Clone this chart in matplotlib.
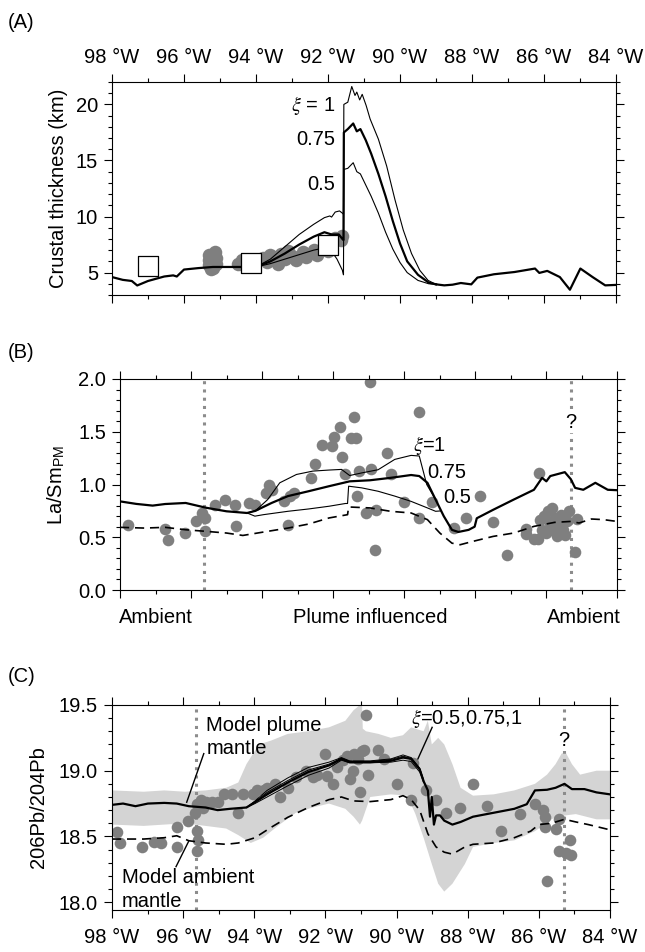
import matplotlib
matplotlib.use("Agg")
import matplotlib.pyplot as plt
from matplotlib.ticker import MultipleLocator, FixedLocator, NullFormatter, FormatStrFormatter

plt.rcParams["font.family"] = ["Liberation Sans", "DejaVu Sans"]
plt.rcParams["mathtext.fontset"] = "stix"

DOT = "#7f7f7f"
BAND = "#d4d4d4"
VLINE = "#8c8c8c"

# ---------------- panel A: crustal thickness ----------------
a_base_lon = [-98.0, -97.7, -97.45, -97.3, -97.0, -96.55, -96.3, -96.2, -96.0, -95.6, -95.2, -94.25, -94.0]
a_base_val = [4.6, 4.35, 4.25, 3.85, 4.25, 4.65, 4.75, 4.65, 5.27, 5.4, 5.5, 5.5, 5.5]

a_x1_lon = [-94.0, -93.6, -93.2, -92.8, -92.4, -92.1, -91.95, -91.9, -91.8, -91.68, -91.6, -91.57,
            -91.56, -91.45, -91.34, -91.25, -91.2, -91.12, -91.05, -90.94, -90.83, -90.6, -90.37,
            -90.14, -89.91, -89.68, -89.45, -89.22, -89.0]
a_x1_val = [5.5, 6.2, 7.3, 8.4, 9.3, 9.9, 10.05, 9.95, 10.4, 10.5, 10.3, 10.2,
            20.0, 20.2, 21.6, 20.8, 21.1, 20.4, 20.9, 19.9, 18.7, 16.9, 14.5,
            11.5, 8.8, 6.7, 5.2, 4.3, 3.95]

a_x075_lon = [-94.0, -93.6, -93.2, -92.8, -92.4, -92.1, -91.9, -91.7, -91.6, -91.57,
              -91.56, -91.45, -91.3, -91.2, -91.1, -90.95, -90.8, -90.6, -90.4, -90.2,
              -90.0, -89.8, -89.5, -89.2, -89.0]
a_x075_val = [5.5, 6.0, 6.7, 7.5, 8.2, 8.6, 8.4, 8.4, 8.0, 7.9,
              17.5, 17.8, 18.3, 17.6, 17.8, 16.8, 15.6, 13.8, 11.8, 9.6,
              7.6, 6.0, 4.8, 4.1, 3.95]

a_x05_lon = [-94.0, -93.6, -93.2, -92.8, -92.4, -92.1, -91.9, -91.75, -91.6, -91.57,
             -91.56, -91.45, -91.3, -91.2, -91.1, -90.95, -90.8, -90.6, -90.4, -90.2,
             -90.0, -89.8, -89.5, -89.2, -89.0]
a_x05_val = [5.5, 5.8, 6.2, 6.6, 7.0, 7.2, 6.9, 6.2, 5.2, 4.8,
             14.2, 14.3, 14.8, 14.0, 13.8, 12.8, 11.8, 10.3, 8.6, 7.1,
             5.9, 5.0, 4.3, 4.0, 3.95]

a_east_lon = [-89.0, -88.77, -88.54, -88.31, -88.02, -87.85, -87.39, -86.82, -86.25, -86.13,
              -85.91, -85.56, -85.28, -84.99, -84.65, -84.3, -84.0]
a_east_val = [3.95, 3.86, 3.92, 4.07, 3.95, 4.55, 4.85, 5.05, 5.36, 4.97,
              5.15, 4.6, 3.47, 5.36, 4.6, 3.86, 3.9]

a_obs_lon = [-95.3, -95.3, -95.3, -95.2, -95.1, -95.1, -95.25, -95.15, -94.5, -94.4, -94.3, -94.2,
             -93.8, -93.7, -93.6, -93.5, -93.4, -93.3, -93.2, -93.1, -93.0, -92.9, -92.7, -92.6,
             -92.4, -92.3, -92.1, -92.0, -91.9, -91.8, -91.65, -91.6]
a_obs_val = [6.6, 6.1, 5.7, 5.4, 6.3, 5.8, 5.3, 6.8, 5.8, 6.1, 5.6, 6.0,
             6.3, 5.9, 6.6, 6.4, 5.8, 6.7, 6.2, 6.9, 6.5, 6.1, 6.8, 6.4,
             7.0, 6.6, 7.3, 6.9, 7.6, 8.1, 7.9, 8.3]

a_sq_lon = [-97.0, -94.15, -92.0]
a_sq_val = [5.6, 5.87, 7.45]

# ---------------- panel B: La/Sm ----------------
b_thick_lon = [-98.0, -97.54, -97.08, -96.73, -96.15, -95.58, -95.0, -94.42, -94.19, -93.73,
               -93.27, -92.69, -92.11, -91.53, -90.96, -90.38, -89.8, -89.57, -89.34, -89.11,
               -88.88, -88.65, -88.47, -88.18, -88.01, -87.95, -87.49, -86.91, -86.34, -86.11,
               -85.99, -85.88, -85.47, -85.3, -85.18, -84.95, -84.61, -84.26, -84.0]
b_thick_val = [0.84, 0.816, 0.80, 0.815, 0.825, 0.78, 0.746, 0.73, 0.75, 0.825,
               0.89, 0.936, 0.984, 1.03, 1.04, 1.063, 1.09, 1.08, 1.016, 0.857,
               0.70, 0.57, 0.55, 0.57, 0.60, 0.68, 0.76, 0.857, 0.95, 1.063,
               1.03, 1.08, 1.117, 1.05, 0.968, 0.95, 1.016, 0.95, 0.946]

b_x1_lon = [-94.42, -94.19, -93.84, -93.5, -93.03, -92.57, -92.11, -91.76, -91.53, -91.19,
            -90.73, -90.26, -89.8, -89.57, -89.36, -89.11]
b_x1_val = [0.73, 0.75, 0.857, 1.016, 1.095, 1.127, 1.137, 1.143, 1.085, 1.11,
            1.14, 1.238, 1.276, 1.27, 1.0, 0.857]

b_x05_lon = [-94.42, -94.2, -93.96, -93.27, -92.69, -92.11, -91.65, -91.59, -91.56, -91.19,
             -90.73, -90.26, -89.8, -89.34, -89.11, -88.95]
b_x05_val = [0.73, 0.70, 0.714, 0.746, 0.768, 0.794, 0.82, 0.82, 0.984, 0.968,
             0.936, 0.89, 0.84, 0.778, 0.746, 0.75]

b_amb_lon = [-98.0, -97.31, -96.73, -96.15, -95.58, -95.0, -94.54, -93.84, -93.27, -92.69,
             -92.11, -91.59, -91.56, -90.96, -90.38, -89.8, -89.34, -88.99, -88.65, -88.42,
             -88.07, -87.49, -86.91, -86.34, -85.76, -85.3, -85.07, -84.72, -84.38, -84.0]
b_amb_val = [0.594, 0.587, 0.594, 0.571, 0.556, 0.54, 0.517, 0.556, 0.587, 0.625,
             0.683, 0.714, 0.787, 0.778, 0.746, 0.73, 0.667, 0.54, 0.444, 0.429,
             0.46, 0.508, 0.54, 0.603, 0.641, 0.65, 0.635, 0.673, 0.667, 0.65]

b_obs_lon = [-97.77, -96.73, -96.64, -96.18, -95.86, -95.69, -95.61, -95.6, -95.32, -95.03,
             -94.77, -94.74, -94.36, -94.21, -93.9, -93.79, -93.73, -93.38, -93.27, -93.21,
             -93.09, -92.61, -92.51, -92.32, -92.02, -91.96, -91.81, -91.76, -91.67, -91.5,
             -91.42, -91.36, -91.33, -91.28, -91.07, -90.96, -90.93, -90.82, -90.78, -90.49,
             -90.38, -90.0, -89.59, -89.59, -89.22, -88.59, -88.24, -87.87, -87.49, -87.09,
             -86.57, -86.55, -86.34, -86.22, -86.16, -86.11, -86.05, -85.99, -85.93, -85.88,
             -85.82, -85.82, -85.76, -85.7, -85.64, -85.59, -85.53, -85.47, -85.41, -85.36,
             -86.2, -85.12, -85.18]
b_obs_val = [0.62, 0.578, 0.47, 0.54, 0.65, 0.73, 0.68, 0.56, 0.81, 0.857,
             0.81, 0.603, 0.825, 0.806, 0.92, 1.0, 0.95, 0.84, 0.62, 0.89,
             0.92, 1.057, 1.197, 1.37, 1.365, 1.45, 1.546, 1.263, 1.10, 1.444,
             1.644, 1.444, 0.895, 1.127, 0.73, 1.975, 1.15, 0.38, 0.755, 1.295,
             1.095, 0.832, 1.683, 0.683, 0.838, 0.587, 0.683, 0.895, 0.648, 0.333,
             0.533, 0.578, 0.483, 0.483, 0.667, 0.571, 0.698, 0.54, 0.746, 0.635,
             0.778, 0.571, 0.683, 0.508, 0.603, 0.714, 0.571, 0.524, 0.65, 0.746,
             1.111, 0.673, 0.359]

# ---------------- panel C: 206Pb/204Pb ----------------
c_up_lon = [-98.0, -97.11, -96.53, -95.95, -95.37, -94.79, -94.45, -94.22, -93.87, -93.52,
            -93.06, -92.48, -91.9, -91.44, -91.21, -91.03, -90.97, -90.95, -90.86, -90.51,
            -90.16, -89.82, -89.59, -89.24, -89.12, -89.01, -88.83, -88.66, -88.43, -88.2,
            -87.85, -87.27, -86.69, -86.11, -85.77, -85.53, -85.36, -85.25, -85.07, -84.84,
            -84.38, -84.0]
c_up_val = [18.85, 18.84, 18.85, 18.84, 18.85, 18.87, 18.91, 19.05, 19.2, 19.23,
            19.28, 19.3, 19.33, 19.38, 19.46, 19.5, 19.5, 19.32, 19.3, 19.28,
            19.25, 19.27, 19.33, 19.3, 19.38, 19.2, 19.25, 19.2, 19.05, 18.87,
            18.81, 18.82, 18.85, 18.9, 18.97, 19.05, 19.13, 19.14, 19.05, 18.97,
            19.0, 19.0]
c_lo_lon = [-98.0, -97.11, -95.95, -95.37, -94.79, -94.45, -94.1, -93.75, -93.29, -92.83,
            -92.36, -91.9, -91.44, -91.21, -91.03, -90.97, -90.74, -90.16, -89.7, -89.47,
            -89.24, -89.01, -88.83, -88.66, -88.43, -88.08, -87.85, -87.27, -86.69, -86.11,
            -85.53, -84.96, -84.38, -84.0]
c_lo_val = [18.59, 18.58, 18.6, 18.58, 18.56, 18.51, 18.45, 18.49, 18.59, 18.68,
            18.72, 18.75, 18.71, 18.65, 18.59, 18.62, 18.8, 18.82, 18.81, 18.67,
            18.49, 18.29, 18.14, 18.08, 18.14, 18.29, 18.42, 18.45, 18.47, 18.54,
            18.65, 18.67, 18.63, 18.63]

c_plume_lon = [-98.0, -97.69, -97.34, -96.99, -96.53, -96.18, -95.84, -95.37, -95.03, -94.68,
               -94.22, -93.98, -93.64, -93.06, -92.48, -91.9, -91.55, -91.32, -90.74, -90.16,
               -89.82, -89.59, -89.35, -89.24, -89.12, -89.06, -89.01, -88.95, -88.89, -88.78,
               -88.66, -88.43, -88.2, -87.85, -87.27, -86.69, -86.34, -86.11, -85.77, -85.53,
               -85.28, -85.07, -84.72, -84.38, -84.0]
c_plume_val = [18.74, 18.75, 18.73, 18.75, 18.755, 18.75, 18.73, 18.72, 18.70, 18.71,
               18.72, 18.76, 18.82, 18.91, 18.99, 19.04, 19.09, 19.065, 19.065, 19.075,
               19.1, 19.09, 19.01, 18.92, 18.85, 18.65, 18.8, 18.59, 18.66, 18.66,
               18.62, 18.59, 18.61, 18.65, 18.68, 18.71, 18.745, 18.85, 18.855, 18.87,
               18.9, 18.86, 18.86, 18.835, 18.82]

c_xi_lon = [-94.22, -93.98, -93.64, -93.06, -92.48, -91.9, -91.55, -91.32, -90.74, -90.16,
            -89.82, -89.59, -89.35, -89.24]
c_x1_val = [18.72, 18.77, 18.85, 18.945, 19.025, 19.065, 19.10, 19.075, 19.075, 19.09,
            19.12, 19.10, 19.02, 18.93]
c_x075_val = [18.72, 18.765, 18.835, 18.925, 19.005, 19.05, 19.095, 19.07, 19.07, 19.085,
              19.11, 19.095, 19.015, 18.925]
c_x05_val = [18.72, 18.75, 18.80, 18.885, 18.965, 19.02, 19.08, 19.06, 19.06, 19.065,
             19.08, 19.07, 18.99, 18.91]

c_amb_lon = [-98.0, -97.11, -96.53, -96.18, -95.84, -95.37, -94.79, -94.45, -93.98, -93.52,
             -93.06, -92.48, -91.9, -91.55, -91.21, -90.74, -90.16, -89.82, -89.59, -89.35,
             -89.12, -88.89, -88.66, -88.43, -88.08, -87.85, -87.27, -86.69, -86.23, -86.0,
             -85.65, -85.28, -84.96, -84.61, -84.0]
c_amb_val = [18.48, 18.48, 18.49, 18.505, 18.467, 18.45, 18.44, 18.45, 18.49, 18.57,
             18.645, 18.72, 18.78, 18.8, 18.77, 18.765, 18.78, 18.81, 18.78, 18.7,
             18.52, 18.42, 18.38, 18.365, 18.42, 18.44, 18.45, 18.49, 18.54, 18.59,
             18.6, 18.63, 18.61, 18.59, 18.55]

c_obs_lon = [-97.86, -97.78, -97.17, -96.82, -96.61, -96.18, -96.18, -95.86, -95.66, -95.6,
             -95.6, -95.6, -95.58, -95.51, -95.43, -95.37, -95.2, -95.03, -94.85, -94.64,
             -94.45, -94.33, -94.04, -93.93, -93.73, -93.64, -93.41, -93.29, -93.06, -92.83,
             -92.54, -92.36, -92.25, -92.02, -91.96, -91.78, -91.67, -91.5, -91.38, -91.32,
             -91.23, -91.21, -91.09, -91.03, -90.97, -90.92, -90.86, -90.8, -90.51, -90.34,
             -89.99, -89.59, -89.55, -89.18, -88.89, -88.6, -88.22, -87.85, -87.47, -87.07,
             -86.52, -86.11, -85.88, -85.82, -85.82, -85.77, -85.53, -85.44, -85.42, -85.25,
             -85.13, -85.1]
c_obs_val = [18.53, 18.45, 18.42, 18.46, 18.45, 18.57, 18.42, 18.62, 18.68, 18.75,
             18.54, 18.39, 18.47, 18.78, 18.72, 18.76, 18.76, 18.76, 18.82, 18.82,
             18.68, 18.82, 18.82, 18.85, 18.85, 18.87, 18.9, 18.8, 18.87, 18.95,
             19.0, 18.95, 18.97, 19.13, 18.96, 18.9, 19.03, 19.08, 19.11, 18.94,
             19.0, 19.13, 19.09, 18.84, 19.15, 19.16, 19.425, 18.97, 19.16, 19.09,
             18.9, 18.78, 19.06, 18.85, 18.78, 18.68, 18.72, 18.9, 18.73, 18.54,
             18.67, 18.75, 18.7, 18.65, 18.57, 18.16, 18.56, 18.63, 18.39, 18.37,
             18.47, 18.36]

div_lon = [-95.63, -85.29]
lon_ticks = [-98, -96, -94, -92, -90, -88, -86, -84]
lon_labels = ["98 °W", "96 °W", "94 °W", "92 °W", "90 °W", "88 °W", "86 °W", "84 °W"]
b_region_lon = [-96.98, -90.96, -84.93]
b_region_txt = ["Ambient", "Plume influenced", "Ambient"]

FS = 14.5
W, H = 645, 952
fig = plt.figure(figsize=(W / 100, H / 100), dpi=100)


def rect(l, r, t, b):
    return [l / W, 1 - b / H, (r - l) / W, (b - t) / H]


axA = fig.add_axes(rect(112, 616, 82, 295))
axB = fig.add_axes(rect(120, 617, 379, 590))
axC = fig.add_axes(rect(112, 610, 705, 910))


def style(ax, ymaj, ymin):
    ax.set_xlim(-98, -84)
    ax.xaxis.set_major_locator(FixedLocator(lon_ticks))
    ax.xaxis.set_minor_locator(MultipleLocator(1))
    ax.yaxis.set_major_locator(MultipleLocator(ymaj))
    ax.yaxis.set_minor_locator(MultipleLocator(ymin))
    ax.tick_params(which="both", direction="out", top=True, right=True, width=0.8,
                   labelsize=FS, pad=4)
    ax.tick_params(which="major", length=6)
    ax.tick_params(which="minor", length=3)
    for s in ax.spines.values():
        s.set_linewidth(0.8)


# panel A
style(axA, 5, 1)
axA.set_ylim(3, 22)
axA.set_xticklabels(lon_labels)
axA.tick_params(axis="x", labeltop=True, labelbottom=False, pad=5)
axA.scatter(a_obs_lon, a_obs_val, s=95, color=DOT, lw=0, zorder=2)
axA.plot(a_base_lon, a_base_val, color="k", lw=1.6, zorder=3)
axA.plot(a_x1_lon, a_x1_val, color="k", lw=0.8, zorder=3)
axA.plot(a_x075_lon, a_x075_val, color="k", lw=1.6, zorder=3)
axA.plot(a_x05_lon, a_x05_val, color="k", lw=0.8, zorder=3)
axA.plot(a_east_lon, a_east_val, color="k", lw=1.6, zorder=3)
axA.scatter(a_sq_lon, a_sq_val, s=190, marker="s", facecolor="white", edgecolor="k",
            lw=0.9, zorder=4)
axA.text(-91.8, 19.9, r"$\xi$ = 1", ha="right", va="center", fontsize=FS)
axA.text(-91.8, 16.9, "0.75", ha="right", va="center", fontsize=FS)
axA.text(-91.8, 12.85, "0.5", ha="right", va="center", fontsize=FS)
axA.set_ylabel("Crustal thickness (km)", fontsize=FS, labelpad=6)

# panel B
style(axB, 0.5, 0.1)
axB.set_ylim(0, 2)
axB.yaxis.set_major_formatter(FormatStrFormatter("%.1f"))
axB.xaxis.set_major_formatter(NullFormatter())
for x in div_lon:
    axB.plot([x, x], [0, 2], color=VLINE, lw=2.2, ls=(0, (1, 1.7)), zorder=1)
axB.scatter(b_obs_lon, b_obs_val, s=70, color=DOT, lw=0, zorder=2)
axB.plot(b_amb_lon, b_amb_val, color="k", lw=1.2, ls=(0, (5.5, 3.5)), zorder=3)
axB.plot(b_x1_lon, b_x1_val, color="k", lw=0.8, zorder=3)
axB.plot(b_x05_lon, b_x05_val, color="k", lw=0.8, zorder=3)
axB.plot(b_thick_lon, b_thick_val, color="k", lw=1.6, zorder=3)
axB.text(-89.75, 1.37, r"$\xi$=1", ha="left", va="center", fontsize=FS)
axB.text(-89.35, 1.11, "0.75", ha="left", va="center", fontsize=FS)
axB.text(-88.9, 0.875, "0.5", ha="left", va="center", fontsize=FS)
axB.text(div_lon[1], 1.59, "?", ha="center", va="center", fontsize=FS,
         bbox=dict(facecolor="white", edgecolor="none", pad=1), zorder=4)
for x, t in zip(b_region_lon, b_region_txt):
    axB.text(x, -0.085, t, transform=axB.get_xaxis_transform(), ha="center", va="top",
             fontsize=FS)
axB.set_ylabel(r"La/Sm$_{\mathregular{PM}}$", fontsize=FS, labelpad=8)

# panel C
style(axC, 0.5, 0.1)
axC.set_ylim(17.94, 19.5)
axC.yaxis.set_major_formatter(FormatStrFormatter("%.1f"))
axC.set_xticklabels(lon_labels)
axC.tick_params(axis="x", pad=7)
axC.fill(c_up_lon + c_lo_lon[::-1], c_up_val + c_lo_val[::-1], color=BAND, lw=0, zorder=0)
for x in div_lon:
    axC.plot([x, x], [17.94, 19.5], color=VLINE, lw=2.2, ls=(0, (1, 1.7)), zorder=1)
axC.scatter(c_obs_lon, c_obs_val, s=70, color=DOT, lw=0, zorder=2)
axC.plot(c_amb_lon, c_amb_val, color="k", lw=1.2, ls=(0, (5.5, 3.5)), zorder=3)
axC.plot(c_xi_lon, c_x1_val, color="k", lw=0.7, zorder=3)
axC.plot(c_xi_lon, c_x075_val, color="k", lw=0.7, zorder=3)
axC.plot(c_xi_lon, c_x05_val, color="k", lw=0.7, zorder=3)
axC.plot(c_plume_lon, c_plume_val, color="k", lw=1.6, zorder=3)
axC.text(-95.35, 19.42, "Model plume\nmantle", ha="left", va="top", fontsize=FS,
         linespacing=1.3)
axC.plot([-95.42, -95.9], [19.13, 18.76], color="k", lw=1.0)
axC.text(-97.72, 17.935, "Model ambient\nmantle", ha="left", va="bottom", fontsize=FS,
         linespacing=1.3)
axC.plot([-96.2, -95.85], [18.27, 18.46], color="k", lw=1.0)
axC.text(-89.6, 19.4, r"$\xi$=0.5,0.75,1", ha="left", va="center", fontsize=FS)
axC.plot([-89.0, -89.4], [19.33, 19.09], color="k", lw=1.0)
axC.text(div_lon[1], 19.23, "?", ha="center", va="center", fontsize=FS,
         bbox=dict(facecolor="white", edgecolor="none", pad=1), zorder=4)
axC.set_ylabel("206Pb/204Pb", fontsize=FS, labelpad=8)

for lab, y in [("(A)", 22), ("(B)", 353), ("(C)", 676)]:
    fig.text(8 / W, 1 - y / H, lab, ha="left", va="center", fontsize=FS)

fig.savefig("out.png", dpi=100)
